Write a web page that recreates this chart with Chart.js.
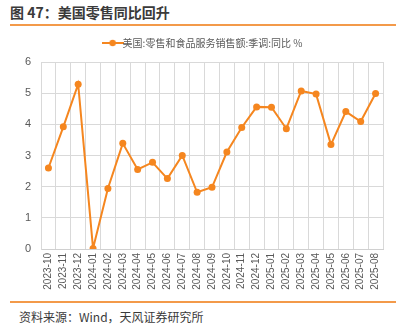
<!DOCTYPE html>
<html>
<head>
<meta charset="utf-8">
<script src="https://cdn.jsdelivr.net/npm/chart.js@4"></script>
<style>
  body { margin: 0; background: #fff; font-family: "Noto Sans CJK SC", "Noto Sans", sans-serif; }
  #wrap { position: relative; width: 410px; height: 327px; overflow: hidden; }
  #title { position: absolute; left: 10px; top: 2px; font-size: 14px; font-weight: bold; color: #3a3a3a; }
  .rule { position: absolute; left: 10px; width: 386px; height: 2px; background: #f39a4a; }
  #chartBox { position: absolute; left: 0; top: 28px; width: 410px; height: 272px; }
  #source { position: absolute; left: 19px; top: 308px; font-size: 12px; color: #3a3a3a; }
</style>
</head>
<body>
<div id="wrap">
  <div id="title">图 47：美国零售同比回升</div>
  <div class="rule" style="top:24px"></div>
  <div id="chartBox"><canvas id="retailChart" width="410" height="272"></canvas></div>
  <div class="rule" style="top:301px"></div>
  <div id="source">资料来源：Wind，天风证券研究所</div>
</div>
<script>
// Monthly retail & food service sales, seasonally adjusted, YoY %
const months = ["2023-10","2023-11","2023-12","2024-01","2024-02","2024-03","2024-04","2024-05",
  "2024-06","2024-07","2024-08","2024-09","2024-10","2024-11","2024-12","2025-01","2025-02",
  "2025-03","2025-04","2025-05","2025-06","2025-07","2025-08"];
const retailYoY = [2.60, 3.92, 5.29, 0.02, 1.94, 3.39, 2.55, 2.78, 2.26, 3.00, 1.82, 1.98,
  3.11, 3.90, 4.56, 4.55, 3.86, 5.07, 4.97, 3.35, 4.41, 4.09, 4.99];
const yTicks = [0, 1, 2, 3, 4, 5, 6];
const seriesName = "美国:零售和食品服务销售额:季调:同比 %";

const orange = "#f5861f";

// legend marker: short line with a dot in the middle
const marker = document.createElement("canvas");
marker.width = 22; marker.height = 8;
const mctx = marker.getContext("2d");
mctx.strokeStyle = orange; mctx.lineWidth = 2;
mctx.beginPath(); mctx.moveTo(0, 4); mctx.lineTo(22, 4); mctx.stroke();
mctx.fillStyle = orange;
mctx.beginPath(); mctx.arc(11, 4, 3.2, 0, Math.PI * 2); mctx.fill();

// leave a bit more room under the legend
const legendGap = {
  id: "legendGap",
  beforeInit(chart) {
    const fit = chart.legend.fit;
    chart.legend.fit = function () { fit.call(this); this.height += 4; };
  }
};

const ctx = document.getElementById("retailChart").getContext("2d");
new Chart(ctx, {
  type: "line",
  data: {
    labels: months,
    datasets: [{
      label: seriesName,
      data: retailYoY,
      borderColor: orange,
      backgroundColor: orange,
      borderWidth: 2,
      pointRadius: 3.5,
      pointBackgroundColor: orange,
      pointBorderWidth: 0,
      tension: 0
    }]
  },
  plugins: [legendGap],
  options: {
    responsive: false,
    animation: false,
    devicePixelRatio: 1,
    layout: { padding: 0 },
    plugins: {
      legend: {
        display: true,
        labels: {
          usePointStyle: true,
          color: "#595959",
          font: { size: 10, family: "'Noto Sans CJK SC', sans-serif" },
          padding: 10,
          generateLabels: chart => chart.data.datasets.map((ds, i) => ({
            text: ds.label,
            pointStyle: marker,
            fontColor: "#595959",
            lineWidth: 0,
            datasetIndex: i
          }))
        }
      },
      tooltip: { enabled: false }
    },
    scales: {
      x: {
        offset: true,
        grid: { offset: true, color: "#d9d9d9", lineWidth: 1, drawTicks: false },
        border: { color: "#d0d0d0", width: 1 },
        ticks: {
          autoSkip: false, maxRotation: 90, minRotation: 90, padding: 4,
          color: "#595959", font: { size: 10, family: "'Liberation Sans', sans-serif" }
        },
        afterFit: scale => { scale.height = 51; }
      },
      y: {
        min: 0, max: 6,
        afterBuildTicks: scale => { scale.ticks = yTicks.map(v => ({ value: v })); },
        grid: { color: "#d9d9d9", lineWidth: 1, drawTicks: false },
        border: { color: "#d9d9d9", width: 1 },
        ticks: {
          padding: 10, color: "#595959",
          font: { size: 11, family: "'Liberation Sans', sans-serif" }
        },
        afterFit: scale => { scale.width = 41; }
      },
      // empty right-hand axis, only reserves the margin
      yRight: {
        position: "right",
        min: 0, max: 6,
        grid: { display: false },
        border: { display: false },
        ticks: { display: false },
        afterFit: scale => { scale.width = 27; }
      }
    }
  }
});
</script>
</body>
</html>
